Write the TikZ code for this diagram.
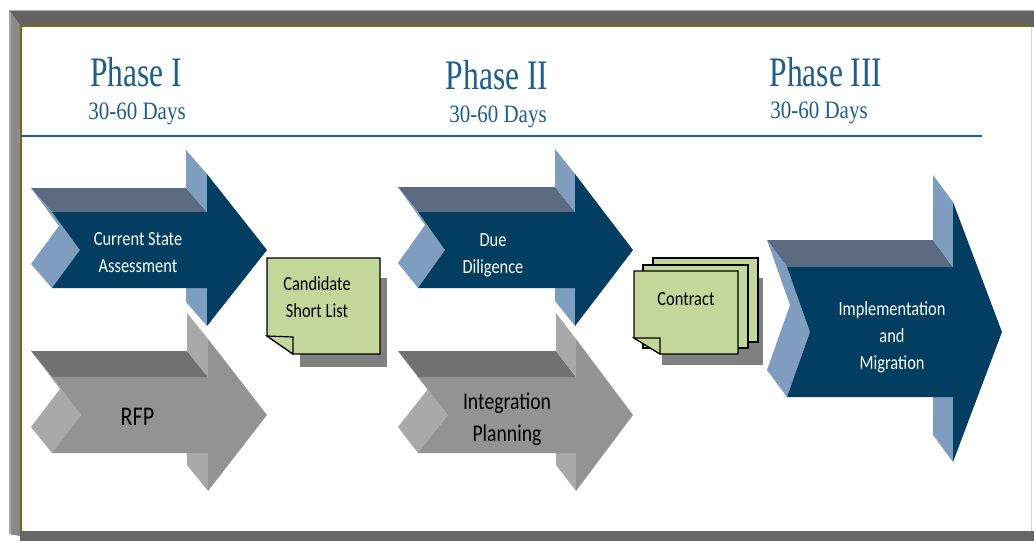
\documentclass[tikz,border=0pt]{standalone}
\usepackage{fontspec}
\setmainfont{Carlito}
\newfontfamily\titulo{Liberation Serif}

\definecolor{marino}{RGB}{1,62,98}
\definecolor{pizarra}{RGB}{91,106,128}
\definecolor{celeste}{RGB}{127,157,191}
\definecolor{grisfrente}{RGB}{147,147,147}
\definecolor{gristapa}{RGB}{114,114,114}
\definecolor{grislado}{RGB}{169,169,169}
\definecolor{verdenota}{RGB}{196,215,155}
\definecolor{azultitulo}{RGB}{31,93,138}
\definecolor{oliva}{RGB}{110,110,20}

\tikzset{
    azul/.style={frente/.style={fill=marino}, tapa/.style={fill=pizarra}, lado/.style={fill=celeste}},
    gris/.style={frente/.style={fill=grisfrente}, tapa/.style={fill=gristapa}, lado/.style={fill=grislado}},
    fase/.style={text=azultitulo, font=\titulo\fontsize{42}{42}\selectfont, xscale=0.75, anchor=base, inner sep=0pt},
    dias/.style={text=azultitulo, font=\titulo\fontsize{25}{25}\selectfont, xscale=0.84, anchor=base, inner sep=0pt},
    rotulo/.style={font=\fontsize{20}{27}\selectfont, xscale=0.82, align=center, inner sep=0pt},
    hoja/.style={fill=verdenota, draw=black, line width=1.2pt, line join=miter},
    sombra/.style={fill=black!50},
}

% flecha en relieve: izq, centro, medio alto, cuello, punta, muesca, dx, dy
\newcommand{\flecha}[8]{%
    \fill[tapa] ({#1+#7},{#2-#3+#8}) -- ({#4+#7},{#2-#3+#8}) -- (#4,{#2-#3}) -- (#1,{#2-#3}) -- cycle;
    \fill[lado] ({#4+#7},{#2-2*#3+#8}) -- (#4,{#2-2*#3}) -- (#4,{#2-#3}) -- ({#4+#7},{#2-#3+#8}) -- cycle;
    \fill[lado] ({#4+#7},{#2+#3+#8}) -- (#4,{#2+#3}) -- (#4,{#2+2*#3}) -- ({#4+#7},{#2+2*#3+#8}) -- cycle;
    \fill[lado] ({#1+#7},{#2-#3+#8}) -- (#1,{#2-#3}) -- ({#1+#6},#2) -- (#1,{#2+#3}) -- ({#1+#7},{#2+#3+#8}) -- ({#1+#6+#7},{#2+#8}) -- cycle;
    \fill[frente] (#1,{#2-#3}) -- (#4,{#2-#3}) -- (#4,{#2-2*#3}) -- (#5,#2) -- (#4,{#2+2*#3}) -- (#4,{#2+#3}) -- (#1,{#2+#3}) -- ({#1+#6},#2) -- cycle;
}

\begin{document}
\begin{tikzpicture}[x=1pt,y=-1pt]
    \useasboundingbox (0,0) rectangle (1034,541);
    \fill[white] (0,0) rectangle (1034,541);

    % Marco
    \fill[black!46] (9,10) -- (20,25) -- (20,536) -- (9,534) -- cycle;
    \fill[black!34] (9,10) -- (11,12) -- (11,534) -- (9,534) -- cycle;
    \fill[black!61] (9,10) -- (1034,10) -- (1034,25) -- (20,25) -- cycle;
    \draw[black!30] (10,10.5) -- (1034,10.5);
    \fill[oliva] (20,25) rectangle (1034,27);
    \fill[oliva] (20,25) rectangle (21.5,531);
    \fill[black!60] (20,531) rectangle (1034,541);
    \draw[black!16] (1031,27) -- (1031,531);

    % Fases
    \node[fase] (fase1) at (136,86) {Phase I};
    \node[dias] (dias1) at (137,119) {30-60 Days};
    \node[fase] (fase2) at (497,89) {Phase II};
    \node[dias] (dias2) at (498,122) {30-60 Days};
    \node[fase] (fase3) at (826,86) {Phase III};
    \node[dias] (dias3) at (819,118) {30-60 Days};
    \draw[azultitulo, line width=2pt] (21,136) -- (982,136);

    % Flechas
    \begin{scope}[azul]
        \flecha{52}{250}{38}{207}{267}{28}{-21}{-24}
        \flecha{418}{250}{38}{575}{633}{27}{-20}{-25}
        \flecha{787}{332}{65}{953}{1002}{23}{-20}{-27}
    \end{scope}
    \begin{scope}[gris]
        \flecha{52}{415}{38}{208}{267}{29}{-21}{-26}
        \flecha{418}{415}{38}{576}{633}{30}{-20}{-26}
    \end{scope}

    \node[rotulo, text=white] (evaluacion) at (138,253) {Current State\\Assessment};
    \node[rotulo, font=\fontsize{27}{27}\selectfont] (rfp) at (137.5,417) {RFP};
    \node[rotulo, text=white] (diligencia) at (493,255) {Due\\Diligence};
    \node[rotulo, font=\fontsize{24}{32}\selectfont] (integracion) at (507,419) {Integration\\Planning};
    \node[rotulo, text=white] (migracion) at (892,337) {Implementation\\and\\Migration};

    % Notas
    \fill[sombra] (300,278) rectangle (387,367);
    \draw[hoja] (267,258) -- (380,258) -- (380,354) -- (293,354) -- (267,336) -- cycle;
    \draw[hoja] (267,336) -- (293,337) -- (293,354) -- cycle;
    \node[rotulo] (candidatos) at (317,297) {Candidate\\Short List};

    \fill[sombra] (662,278) rectangle (763,365);
    \draw[hoja] (653,258) rectangle (758,342);
    \draw[hoja] (643,265) rectangle (748,348);
    \draw[hoja] (634,271) -- (738,271) -- (738,354) -- (660,354) -- (634,338) -- cycle;
    \draw[hoja] (634,338) -- (660,338) -- (660,354) -- cycle;
    \node[rotulo] (contrato) at (686,299) {Contract};
\end{tikzpicture}
\end{document}
